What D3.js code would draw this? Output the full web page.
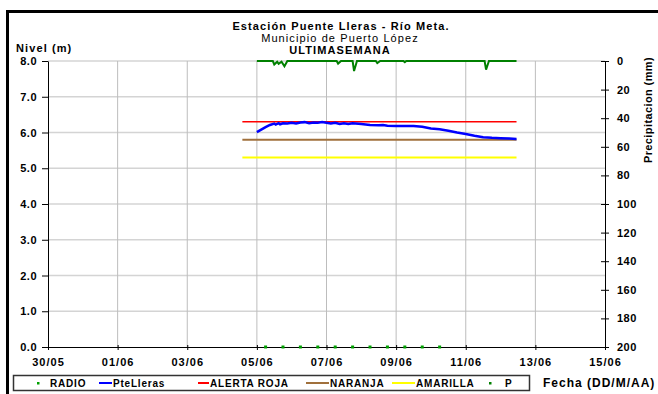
<!DOCTYPE html>
<html>
<head>
<meta charset="utf-8">
<script src="https://cdn.jsdelivr.net/npm/d3@7"></script>
<style>
  body { margin: 0; background: #fff; }
  svg { display: block; font-family: "Liberation Sans", Arial, sans-serif; }
</style>
</head>
<body>
<div class="chart"></div>
<script>
//Data (hours counted from 05/06 00:00)
var start = new Date(2014, 5, 5);
var levelHours = [0, 3, 6, 9, 12, 13, 15, 16, 18, 21, 24, 27, 30, 33, 36, 39, 42, 45, 48, 51, 54, 57, 60, 63, 66, 72, 78, 84, 87, 90, 96, 102, 108, 114, 120, 126, 132, 138, 144, 150, 156, 162, 168, 174, 179];
var levels = [6.01, 6.08, 6.15, 6.21, 6.25, 6.22, 6.26, 6.23, 6.26, 6.25, 6.27, 6.25, 6.28, 6.29, 6.26, 6.28, 6.27, 6.29, 6.27, 6.25, 6.27, 6.24, 6.26, 6.24, 6.26, 6.24, 6.21, 6.20, 6.21, 6.19, 6.18, 6.18, 6.18, 6.16, 6.11, 6.09, 6.05, 6.00, 5.96, 5.91, 5.87, 5.85, 5.84, 5.83, 5.82];
var thresholdHours = [-10, 179];
var alertaRoja = 6.3;
var naranja = 5.8;
var amarilla = 5.3;
var radioHours = [6, 18, 30, 42, 54, 66, 78, 90, 102, 114, 126];
var radioValues = [0, 0, 0, 0, 0, 0, 0, 0, 0, 0, 0];
var rainHours = [0, 11, 12.5, 14, 15.5, 17, 19, 21, 55, 56.7, 58, 66, 67.7, 69, 82, 83.5, 85, 101, 102, 103, 157, 158.6, 160, 179];
var rainMm = [0, 0, 2.5, 0.5, 2, 0.5, 3.7, 0, 0, 1.8, 0, 0, 7, 0, 0, 1.5, 0, 0, 0.8, 0, 0, 6, 0, 0];
var levelTicks = [0, 1, 2, 3, 4, 5, 6, 7, 8];
var rainTicks = [0, 20, 40, 60, 80, 100, 120, 140, 160, 180, 200];

//Width and height
var w = 658;
var h = 394;
var m = {left: 48, right: 605, top: 61, bottom: 347};

var hour = d => d3.timeHour.offset(start, d);

//Create SVG element
var svg = d3.select(".chart")
    .append("svg")
    .attr("width", w)
    .attr("height", h);

//Frame
svg.append("rect")
    .attr("x", 7.5).attr("y", 11.5)
    .attr("width", 700).attr("height", 500)
    .attr("fill", "none").attr("stroke", "#000").attr("stroke-width", 3);

//Scales
var d0 = new Date(2014, 4, 30);
var x = d3.scaleTime()
    .domain([d0, d3.timeDay.offset(d0, 16)])
    .range([m.left, m.right]);
var y = d3.scaleLinear().domain([0, 8]).range([m.bottom, m.top]);
var yRain = d3.scaleLinear().domain([0, 200]).range([m.top, m.bottom]);
var dateTicks = d3.range(0, 17, 2).map(d => d3.timeDay.offset(d0, d));

//Gridlines
svg.append("g").selectAll("line")
    .data(levelTicks.slice(1))
    .join("line")
    .attr("x1", m.left).attr("x2", m.right)
    .attr("y1", d => y(d)).attr("y2", d => y(d))
    .attr("stroke", "#d4d4d4").attr("stroke-width", 1.5);
svg.append("g").selectAll("line")
    .data(dateTicks.slice(1, -1))
    .join("line")
    .attr("x1", d => x(d)).attr("x2", d => x(d))
    .attr("y1", m.top).attr("y2", m.bottom)
    .attr("stroke", "#bdbdbd").attr("stroke-width", 1);

//Axes
var axisStyle = ls => g => {
    g.selectAll("text").attr("font-weight", "bold").attr("font-size", 11).attr("fill", "#000")
        .attr("letter-spacing", ls)
        .attr("font-family", "'Liberation Sans', Arial, sans-serif");
    g.selectAll("line, path").attr("stroke", "#000");
};

svg.append("g")
    .attr("transform", `translate(${m.left},0)`)
    .call(d3.axisLeft(y).tickValues(levelTicks).tickFormat(d3.format(".1f")).tickSize(6).tickSizeOuter(0).tickPadding(5))
    .call(axisStyle(0.5));

svg.append("g")
    .attr("transform", `translate(${m.right},0)`)
    .call(d3.axisRight(yRain).tickValues(rainTicks).tickSize(4).tickSizeOuter(0).tickPadding(8))
    .call(axisStyle(0.5))
    .call(g => g.selectAll(".tick line").attr("x1", -4));

svg.append("g")
    .attr("transform", `translate(0,${m.bottom})`)
    .call(d3.axisBottom(x).tickValues(dateTicks).tickFormat(d3.timeFormat("%d/%m")).tickSize(3).tickSizeOuter(0).tickPadding(8))
    .call(axisStyle(1))
    .call(g => g.selectAll(".tick line").attr("y1", -2));

//Threshold lines
var flat = v => d3.line().x(d => x(hour(d))).y(() => y(v));
[[alertaRoja, "#ff0000", 1.5], [naranja, "#a0703c", 2], [amarilla, "#ffff00", 2]].forEach(t => {
    svg.append("path")
        .attr("d", flat(t[0])(thresholdHours))
        .attr("fill", "none").attr("stroke", t[1]).attr("stroke-width", t[2]);
});

//Level line
svg.append("path")
    .datum(levelHours)
    .attr("d", d3.line().x(d => x(hour(d))).y((d, i) => y(levels[i])))
    .attr("fill", "none").attr("stroke", "#0000ff").attr("stroke-width", 2.5);

//Rain line
svg.append("path")
    .datum(rainHours)
    .attr("d", d3.line().x(d => x(hour(d))).y((d, i) => yRain(rainMm[i])))
    .attr("fill", "none").attr("stroke", "#008000").attr("stroke-width", 2);

//Radio points
svg.append("g").selectAll("rect")
    .data(radioHours)
    .join("rect")
    .attr("x", d => x(hour(d)) - 1.5)
    .attr("y", (d, i) => y(radioValues[i]) - 1.5)
    .attr("width", 3).attr("height", 3)
    .attr("fill", "#00a000");

//Titles
var title = svg.append("g").attr("text-anchor", "middle").attr("fill", "#000").attr("letter-spacing", 1.1);
title.append("text").attr("x", 341).attr("y", 30).attr("font-size", 11).attr("font-weight", "bold")
    .text("Estación Puente Lleras - Río Meta.");
title.append("text").attr("x", 340).attr("y", 42).attr("font-size", 11)
    .text("Municipio de Puerto López");
title.append("text").attr("x", 340).attr("y", 54).attr("font-size", 11).attr("font-weight", "bold")
    .text("ULTIMASEMANA");

svg.append("text").attr("x", 16).attr("y", 52).attr("font-size", 11).attr("font-weight", "bold")
    .attr("letter-spacing", 1.1)
    .text("Nivel (m)");
svg.append("text")
    .attr("transform", "translate(652,110) rotate(-90)")
    .attr("text-anchor", "middle").attr("font-size", 11).attr("font-weight", "bold")
    .attr("letter-spacing", 0.4)
    .text("Precipitacion (mm)");
svg.append("text").attr("x", 543).attr("y", 387).attr("font-size", 12).attr("font-weight", "bold")
    .attr("letter-spacing", 1)
    .text("Fecha (DD/M/AA)");

//Legend
var legend = svg.append("g").attr("font-size", 10).attr("font-weight", "bold").attr("letter-spacing", 0.8);
legend.append("rect")
    .attr("x", 13.5).attr("y", 375.5).attr("width", 516).attr("height", 15)
    .attr("fill", "#fff").attr("stroke", "#333").attr("stroke-width", 1.5);
var items = [
    {name: "RADIO", type: "dot", color: "#00a000", x: 38, tx: 50},
    {name: "PteLleras", type: "line", color: "#0000ff", x: 99, tx: 113},
    {name: "ALERTA ROJA", type: "line", color: "#ff0000", x: 198, tx: 210},
    {name: "NARANJA", type: "line", color: "#a0703c", x: 306, tx: 330},
    {name: "AMARILLA", type: "line", color: "#ffff00", x: 392, tx: 416},
    {name: "P", type: "dot", color: "#008000", x: 490, tx: 505}
];
items.forEach(it => {
    if (it.type === "dot") {
        legend.append("rect").attr("x", it.x - 1).attr("y", 382).attr("width", 2.5).attr("height", 2.5).attr("fill", it.color);
    } else {
        legend.append("line").attr("x1", it.x).attr("x2", it.tx - 1).attr("y1", 383).attr("y2", 383)
            .attr("stroke", it.color).attr("stroke-width", 2);
    }
    legend.append("text").attr("x", it.tx).attr("y", 387).text(it.name);
});
</script>
</body>
</html>
